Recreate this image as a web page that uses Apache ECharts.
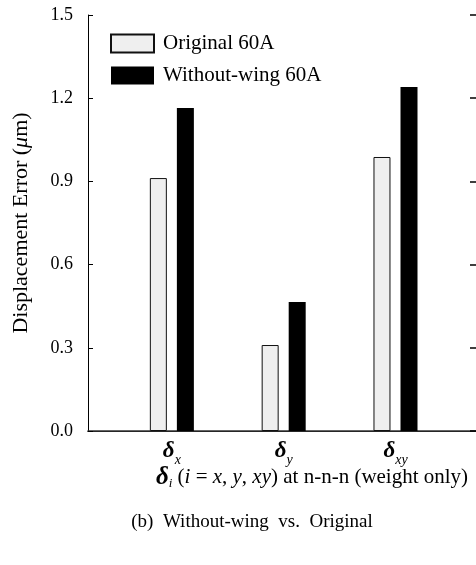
<!DOCTYPE html>
<html><head><meta charset="utf-8">
<script src="https://cdn.jsdelivr.net/npm/echarts@6/dist/echarts.min.js"></script>
<style>html,body{margin:0;padding:0;background:#fff}#c{width:476px;height:565px}</style>
</head><body><div id="c"></div>
<script>
const categories = ['x', 'y', 'xy'];
const categoryPos = [1, 2, 3];
const seriesNames = ['Original 60A', 'Without-wing 60A'];
const originalValues = [0.912, 0.31, 0.988];
const withoutWingValues = [1.165, 0.465, 1.24];
const yTicks = [0.0, 0.3, 0.6, 0.9, 1.2, 1.5];

const FONT = '"Liberation Serif", "DejaVu Serif", serif';
const chart = echarts.init(document.getElementById('c'), null, {renderer: 'canvas'});

const toPairs = vals => vals.map((v, i) => [categoryPos[i], v]);

chart.setOption({
  animation: false,
  backgroundColor: '#fff',
  textStyle: {fontFamily: FONT, color: '#000'},
  grid: {left: 88, right: -4, top: 15, bottom: 134, containLabel: false},
  legend: {
    orient: 'vertical', left: 105, top: 28, itemGap: 11,
    itemWidth: 43, itemHeight: 18, icon: 'rect',
    textStyle: {fontFamily: FONT, fontSize: 21, color: '#000', padding: [0, 0, 0, 4]},
    data: seriesNames
  },
  title: {
    text: '(b)  Without-wing  vs.  Original',
    left: 247, top: 508, textAlign: 'center',
    textStyle: {fontFamily: FONT, fontSize: 19, fontWeight: 'normal', color: '#000'}
  },
  xAxis: [{
    type: 'value', min: 0.25, max: 3.72, position: 'bottom',
    splitLine: {show: false},
    axisLine: {show: true, lineStyle: {color: '#000', width: 1.2}},
    axisTick: {show: false},
    axisLabel: {
      customValues: categoryPos, margin: 9,
      formatter: v => {
        const i = categoryPos.indexOf(v);
        return i < 0 ? '' : '{d|δ}{s|' + categories[i] + '}';
      },
      rich: {
        d: {fontFamily: FONT, fontSize: 23, fontStyle: 'italic', fontWeight: 'bold', color: '#000', verticalAlign: 'bottom'},
        s: {fontFamily: FONT, fontSize: 14, fontStyle: 'italic', color: '#000', verticalAlign: 'bottom', padding: [0, 0, -4, 0]}
      }
    },
    name: '{d|δ}{s|i} ({i|i} = {i|x}, {i|y}, {i|xy}) at n-n-n (weight only)',
    nameLocation: 'middle', nameGap: 34, nameMoveOverlap: false,
    nameTextStyle: {
      fontFamily: FONT, fontSize: 21, color: '#000', padding: [0, 0, 0, 60],
      rich: {
        d: {fontFamily: FONT, fontSize: 25, fontStyle: 'italic', fontWeight: 'bold', color: '#000'},
        s: {fontFamily: FONT, fontSize: 13, fontStyle: 'italic', color: '#000', padding: [0, 0, -12, 0]},
        i: {fontFamily: FONT, fontSize: 21, fontStyle: 'italic', color: '#000'}
      }
    }
  }, {
    type: 'value', min: 0.25, max: 3.72, position: 'top',
    splitLine: {show: false},
    axisLine: {show: true, lineStyle: {color: '#333', width: 1.5}},
    axisTick: {show: false}, axisLabel: {show: false}
  }],
  yAxis: [{
    type: 'value', min: 0, max: 1.5, interval: 0.3, position: 'left',
    splitLine: {show: false},
    axisLine: {show: true, lineStyle: {color: '#000', width: 1}},
    axisTick: {show: true, inside: true, length: 5, lineStyle: {color: '#000'}},
    axisLabel: {
      margin: 15, fontFamily: FONT, fontSize: 18, color: '#000',
      formatter: v => { const t = yTicks.find(x => Math.abs(x - v) < 1e-6); return t === undefined ? '' : t.toFixed(1); }
    },
    name: 'Displacement Error ({i|μ}m)',
    nameLocation: 'middle', nameGap: 56, nameRotate: 90,
    nameTextStyle: {
      fontFamily: FONT, fontSize: 22, color: '#000',
      rich: {i: {fontFamily: FONT, fontSize: 22, fontStyle: 'italic', color: '#000'}}
    }
  }, {
    type: 'value', min: 0, max: 1.5, interval: 0.3, position: 'right',
    splitLine: {show: false},
    axisLine: {show: true, lineStyle: {color: '#000', width: 1}},
    axisTick: {show: true, inside: true, length: 6, lineStyle: {color: '#000', width: 1.5}},
    axisLabel: {show: false}
  }],
  series: [{
    name: seriesNames[0], type: 'bar', xAxisIndex: 0, yAxisIndex: 0,
    barWidth: 17, barGap: '59%',
    itemStyle: {color: '#efefef', borderColor: '#111', borderWidth: 1},
    data: toPairs(originalValues)
  }, {
    name: seriesNames[1], type: 'bar', xAxisIndex: 0, yAxisIndex: 0,
    barWidth: 17,
    itemStyle: {color: '#000', borderColor: '#000', borderWidth: 0},
    data: toPairs(withoutWingValues)
  }]
});
</script></body></html>
